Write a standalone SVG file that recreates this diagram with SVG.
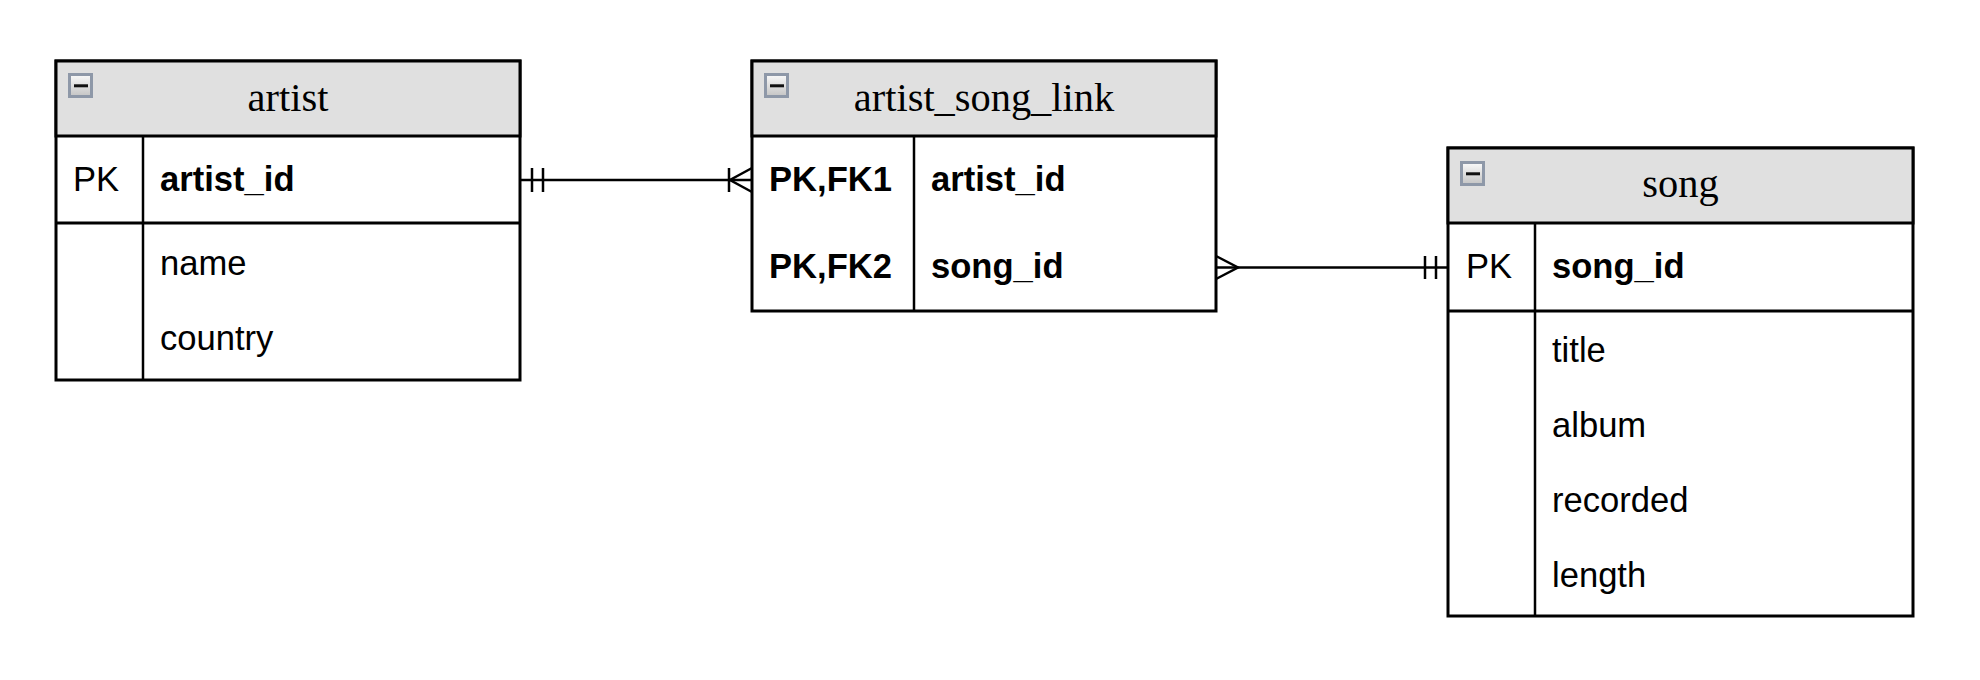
<svg xmlns="http://www.w3.org/2000/svg" xmlns:xlink="http://www.w3.org/1999/xlink" width="1980" height="680" viewBox="0 0 1980 680">
  <style>
    .frame { fill: #ffffff; stroke: #000000; stroke-width: 3; }
    .hdr { fill: #e0e0e0; stroke: #000000; stroke-width: 3; }
    .ln { stroke: #000000; stroke-width: 3; fill: none; }
    .col { stroke: #000000; stroke-width: 2.5; fill: none; }
    .title { font-family: "Liberation Serif", serif; font-size: 40.4px; fill: #000000; text-anchor: middle; }
    .txt { font-family: "Liberation Sans", Arial, sans-serif; font-size: 34.6px; fill: #000000; }
    .b { font-weight: bold; }
    .edge { stroke: #000000; stroke-width: 2.5; fill: none; }
  </style>
  <defs>
    <linearGradient id="iconGrad" x1="0" y1="0" x2="0" y2="1">
      <stop offset="0" stop-color="#fafafa"/>
      <stop offset="1" stop-color="#c4c4c4"/>
    </linearGradient>
    <g id="icon">
      <rect x="1.5" y="1.5" width="22" height="22" fill="url(#iconGrad)" stroke="#8e98a8" stroke-width="3"/>
      <rect x="6" y="11.3" width="14" height="3" fill="#111111"/>
    </g>
  </defs>

  <rect x="0" y="0" width="1980" height="680" fill="#ffffff"/>

  <g id="artist">
    <rect class="frame" x="56" y="61" width="464" height="319"/>
    <rect class="hdr" x="56" y="61" width="464" height="75"/>
    <use xlink:href="#icon" href="#icon" x="68" y="73"/>
    <text class="title" x="288" y="111">artist</text>
    <line class="ln" x1="56" y1="223" x2="520" y2="223"/>
    <line class="col" x1="143" y1="136" x2="143" y2="380"/>
    <text class="txt" x="73" y="191">PK</text>
    <text class="txt b" x="160" y="191">artist_id</text>
    <text class="txt" x="160" y="275">name</text>
    <text class="txt" x="160" y="350">country</text>
  </g>

  <g id="artist_song_link">
    <rect class="frame" x="752" y="61" width="464" height="250"/>
    <rect class="hdr" x="752" y="61" width="464" height="75"/>
    <use xlink:href="#icon" href="#icon" x="764" y="73"/>
    <text class="title" x="984" y="111">artist_song_link</text>
    <line class="col" x1="914" y1="136" x2="914" y2="311"/>
    <text class="txt b" x="769" y="191">PK,FK1</text>
    <text class="txt b" x="931" y="191">artist_id</text>
    <text class="txt b" x="769" y="278">PK,FK2</text>
    <text class="txt b" x="931" y="278">song_id</text>
  </g>

  <g id="song">
    <rect class="frame" x="1448" y="148" width="465" height="468"/>
    <rect class="hdr" x="1448" y="148" width="465" height="75"/>
    <use xlink:href="#icon" href="#icon" x="1460" y="161"/>
    <text class="title" x="1680.5" y="197">song</text>
    <line class="ln" x1="1448" y1="311" x2="1913" y2="311"/>
    <line class="col" x1="1535" y1="223" x2="1535" y2="616"/>
    <text class="txt" x="1466" y="278">PK</text>
    <text class="txt b" x="1552" y="278">song_id</text>
    <text class="txt" x="1552" y="362">title</text>
    <text class="txt" x="1552" y="437">album</text>
    <text class="txt" x="1552" y="512">recorded</text>
    <text class="txt" x="1552" y="587">length</text>
  </g>

  <g id="connectors">
    <g id="edge-artist-link">
      <line class="edge" x1="520" y1="180" x2="752" y2="180"/>
      <line class="edge" x1="532" y1="168" x2="532" y2="192"/>
      <line class="edge" x1="543" y1="168" x2="543" y2="192"/>
      <line class="edge" x1="729" y1="168" x2="729" y2="192"/>
      <polyline class="edge" points="752,168 730,180 752,192"/>
    </g>
    <g id="edge-link-song">
      <line class="edge" x1="1216" y1="267.5" x2="1448" y2="267.5"/>
      <polyline class="edge" points="1216,256 1238,267.5 1216,279"/>
      <line class="edge" x1="1425" y1="256" x2="1425" y2="279"/>
      <line class="edge" x1="1436" y1="256" x2="1436" y2="279"/>
    </g>
  </g>
</svg>
